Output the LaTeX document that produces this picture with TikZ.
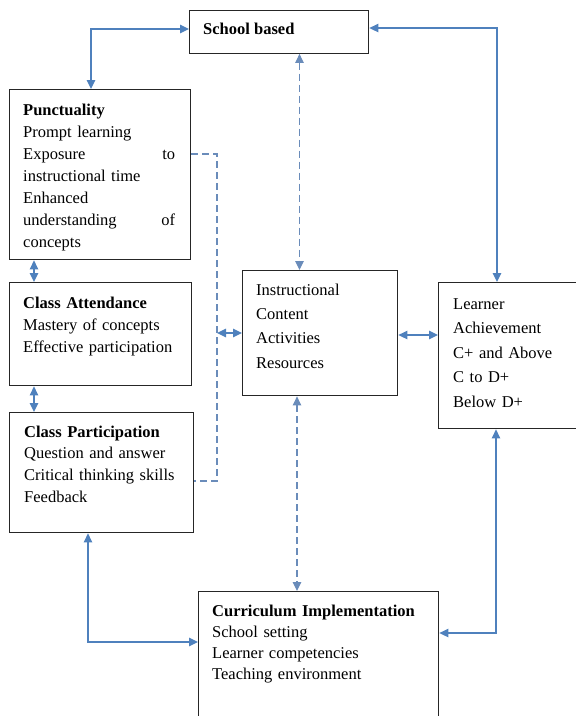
\documentclass[tikz,border=0pt]{standalone}
\usepackage{fontspec}
\setmainfont{Liberation Serif}
\usetikzlibrary{arrows.meta}
\definecolor{lblue}{HTML}{4F81BD}
\definecolor{dashblue}{HTML}{6A8CBA}
\newcommand{\fl}{\rule{0pt}{12pt}}
\begin{document}
\begin{tikzpicture}[x=1pt,y=-1pt,
  >={Triangle[length=9pt,width=8.5pt]},
  box/.style={draw=black!85,line width=1.4pt,inner sep=0pt,anchor=north west},
  txt/.style={inner sep=0pt,anchor=north west,align=left},
  conn/.style={draw=lblue,line width=1.3pt,<->},
  dline/.style={draw=dashblue,line width=1.1pt,dash pattern=on 7pt off 4pt},
  darr/.style={dline,<->}]
\useasboundingbox (0,0) rectangle (576,716);

% boxes
\node[box,minimum width=179pt,minimum height=43pt] (school) at (189,9.5) {};
\node[box,minimum width=181pt,minimum height=170pt] (punct) at (9,89) {};
\node[box,minimum width=182pt,minimum height=103pt] (attend) at (9,282) {};
\node[box,minimum width=184pt,minimum height=120pt] (partic) at (9,412) {};
\node[box,minimum width=155pt,minimum height=125pt] (instr) at (242,270) {};
\node[box,minimum width=142pt,minimum height=146pt] (learner) at (438,282) {};
\node[box,minimum width=240pt,minimum height=139pt] (curric) at (198,591) {};

% texts
\node[txt,font=\bfseries\fontsize{16.5}{20}\selectfont] (schoolT) at (203,22) {\fl School based};
\node[txt,text width=152pt,font=\fontsize{16.5}{22}\selectfont] (punctT) at (23,103)
  {\fl\textbf{Punctuality}\\ Prompt learning\\ Exposure\hfill to\\ instructional time\\ Enhanced\\ understanding\hfill of\\ concepts};
\node[txt,text width=165pt,font=\fontsize{16.5}{22}\selectfont] (attendT) at (23,296)
  {\fl\textbf{Class Attendance}\\ Mastery of concepts\\ Effective participation};
\node[txt,text width=168pt,font=\fontsize{16.5}{21.7}\selectfont] (particT) at (24,425)
  {\fl\textbf{Class Participation}\\ Question and answer\\ Critical thinking skills\\ Feedback};
\node[txt,text width=135pt,font=\fontsize{16.5}{24.3}\selectfont] (instrT) at (256,283)
  {\fl Instructional\\ Content\\ Activities\\ Resources};
\node[txt,text width=120pt,font=\fontsize{16.5}{24.5}\selectfont] (learnerT) at (453,297)
  {\fl Learner\\ Achievement\\ C+ and Above\\ C to D+\\ Below D+};
\node[txt,text width=220pt,font=\fontsize{16.5}{21}\selectfont] (curricT) at (212,604)
  {\fl\textbf{Curriculum Implementation}\\ School setting\\ Learner competencies\\ Teaching environment};

% corner coordinates
\coordinate (c1) at (91,29);
\coordinate (c2) at (497,28);
\coordinate (d1) at (217,154);
\coordinate (d2) at (217,481);
\coordinate (d3) at (217,333);
\coordinate (e1) at (88,642);
\coordinate (e2) at (496,633);
\coordinate (m1) at (299.5,0);
\coordinate (m2) at (297,0);
\coordinate (a1) at (34,0);
\coordinate (r1) at (0,335);

% solid connectors
\draw[conn] (school.west |- c1) -- (c1) -- (punct.north -| c1);
\draw[conn] (school.east |- c2) -- (c2) -- (learner.north -| c2);
\draw[conn] (punct.south -| a1) -- (attend.north -| a1);
\draw[conn] (attend.south -| a1) -- (partic.north -| a1);
\draw[conn] (d3) -- (instr.west |- d3);
\draw[conn] (instr.east |- r1) -- (learner.west |- r1);
\draw[conn] (partic.south -| e1) -- (e1) -- (curric.west |- e1);
\draw[conn] (learner.south -| e2) -- (e2) -- (curric.east |- e2);

% dashed connectors
\draw[darr] (school.south -| m1) -- (instr.north -| m1);
\draw[darr] (instr.south -| m2) -- (curric.north -| m2);
\draw[dline] (punct.east |- d1) -- (d1) -- (d2) -- (partic.east |- d2);
\end{tikzpicture}
\end{document}
